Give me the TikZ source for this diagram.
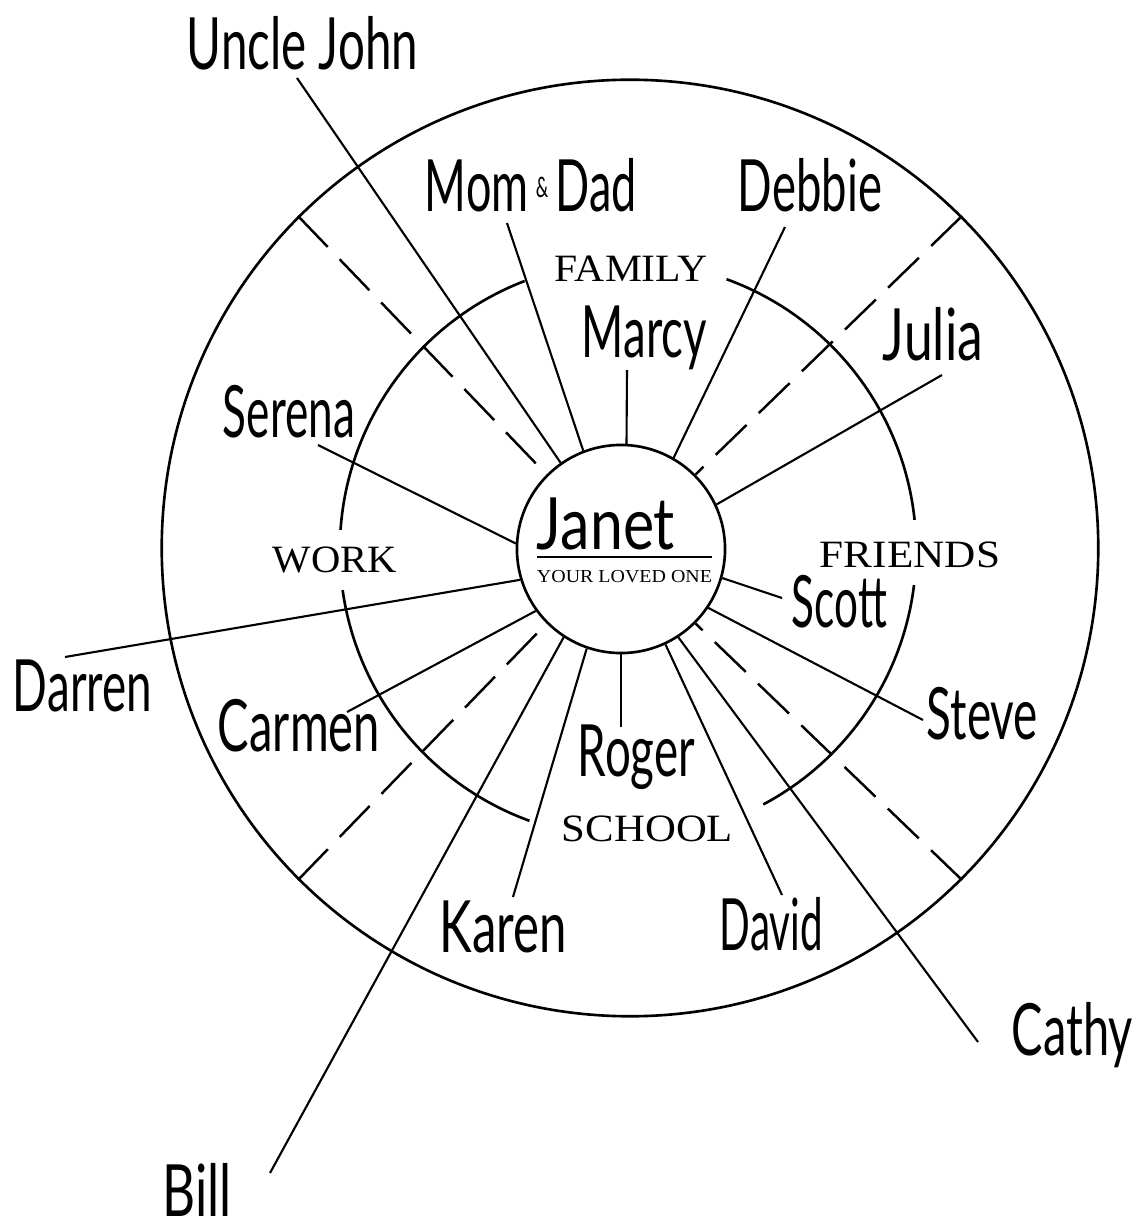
\documentclass[tikz,border=0pt]{standalone}
\usepackage{fontspec}
\usepackage{graphicx}
\newfontfamily\hand{Lato}
\newfontfamily\serifl{Liberation Serif}
\newcommand\hw[2]{\resizebox{#1}{\height}{\hand #2}}
\newcommand\sw[2]{\resizebox{#1}{\height}{\serifl #2}}
\begin{document}
\begin{tikzpicture}[x=0.01cm,y=0.01cm,
  hand/.style={inner sep=0pt, anchor=base, font=\hand\fontsize{20.5}{24}\selectfont},
  cat/.style={inner sep=0pt, anchor=base, font=\serifl\fontsize{11}{13}\selectfont},
  ring/.style={line width=0.75pt},
  link/.style={line width=0.6pt},
  sep/.style={line width=0.7pt, dash pattern=on 0.43cm off 0.17cm}]
\useasboundingbox (0,0) rectangle (1139,1226);

% circles
\node[circle, draw, ring, minimum size=9.36cm, inner sep=0pt] (outer) at (630,678) {};
\node[circle, draw, ring, minimum size=2.08cm, inner sep=0pt] (loved) at (621,677) {};
\coordinate (mc) at (628,676);
\draw[ring] (mc) ++(6:2.88cm) arc[start angle=6,end angle=70,radius=2.88cm];
\draw[ring] (mc) ++(111:2.88cm) arc[start angle=111,end angle=176,radius=2.88cm];
\draw[ring] (mc) ++(188:2.88cm) arc[start angle=188,end angle=250,radius=2.88cm];
\draw[ring] (mc) ++(298:2.88cm) arc[start angle=298,end angle=353,radius=2.88cm];

% dashed separators
\draw[sep] (outer.135) -- (loved.135);
\draw[sep] (outer.45) -- (loved.45);
\draw[sep] (outer.225) -- (loved.225);
\draw[sep] (outer.315) -- (loved.315);

% center text
\node[hand] (janet) at (606,676) {\hw{1.38cm}{Janet}};
\coordinate (ulA) at (537,669);
\coordinate (ulB) at (712,669);
\draw[line width=0.6pt] (ulA) -- (ulB);
\node[cat, font=\serifl\fontsize{5.2}{6}\selectfont] (yl) at (624.5,643) {\sw{1.75cm}{YOUR LOVED ONE}};

% category labels
\node[cat] (family) at (631,944) {\sw{1.52cm}{FAMILY}};
\node[cat] (work) at (335,653) {\sw{1.24cm}{WORK}};
\node[cat] (friends) at (910,658) {\sw{1.80cm}{FRIENDS}};
\node[cat] (school) at (647.5,384) {\sw{1.71cm}{SCHOOL}};

% names
\node[hand] (uncle) at (302.5,1156) {\hw{2.31cm}{Uncle John}};
\node[hand] (mom) at (531,1014) {\hw{2.12cm}{Mom\,{\fontsize{8}{8}\selectfont\raisebox{0.5em}{\&}}\,Dad}};
\node[hand] (debbie) at (810,1014) {\hw{1.44cm}{Debbie}};
\node[hand] (marcy) at (644.5,868) {\hw{1.25cm}{Marcy}};
\node[hand] (julia) at (933,866) {\hw{1.00cm}{Julia}};
\node[hand] (serena) at (289,788) {\hw{1.32cm}{Serena}};
\node[hand] (darren) at (82.5,514) {\hw{1.39cm}{Darren}};
\node[hand] (carmen) at (299,474) {\hw{1.62cm}{Carmen}};
\node[hand] (scott) at (839.5,598) {\hw{0.95cm}{Scott}};
\node[hand] (steve) at (982.5,486) {\hw{1.11cm}{Steve}};
\node[hand] (roger) at (636.5,449) {\hw{1.17cm}{Roger}};
\node[hand] (karen) at (503.5,273) {\hw{1.27cm}{Karen}};
\node[hand] (david) at (771.5,276) {\hw{1.03cm}{David}};
\node[hand] (cathy) at (1072.5,171) {\hw{1.21cm}{Cathy}};
\node[hand] (bill) at (197.5,10) {\hw{0.69cm}{Bill}};

% connector free ends
\coordinate (pUncle) at (297,1148);
\coordinate (pMom) at (507,1003);
\coordinate (pMarcy) at (627,856);
\coordinate (pDebbie) at (785,999);
\coordinate (pJulia) at (942,851);
\coordinate (pScott) at (782,628);
\coordinate (pSteve) at (923,506);
\coordinate (pCathy) at (978,184);
\coordinate (pDavid) at (782,331);
\coordinate (pRoger) at (621,499);
\coordinate (pKaren) at (513,329);
\coordinate (pBill) at (270,53);
\coordinate (pCarmen) at (347,514);
\coordinate (pDarren) at (65,569);
\coordinate (pSerena) at (318,781);

% connectors
\draw[link] (pUncle) -- (loved.125);
\draw[link] (pMom) -- (loved.111);
\draw[link] (pMarcy) -- (loved.87);
\draw[link] (pDebbie) -- (loved.60);
\draw[link] (pJulia) -- (loved.25);
\draw[link] (pScott) -- (loved.344);
\draw[link] (pSteve) -- (loved.326);
\draw[link] (pCathy) -- (loved.303);
\draw[link] (pDavid) -- (loved.295);
\draw[link] (pRoger) -- (loved.270);
\draw[link] (pKaren) -- (loved.251);
\draw[link] (pBill) -- (loved.237);
\draw[link] (pCarmen) -- (loved.216);
\draw[link] (pDarren) -- (loved.197);
\draw[link] (pSerena) -- (loved.177);
\end{tikzpicture}
\end{document}
